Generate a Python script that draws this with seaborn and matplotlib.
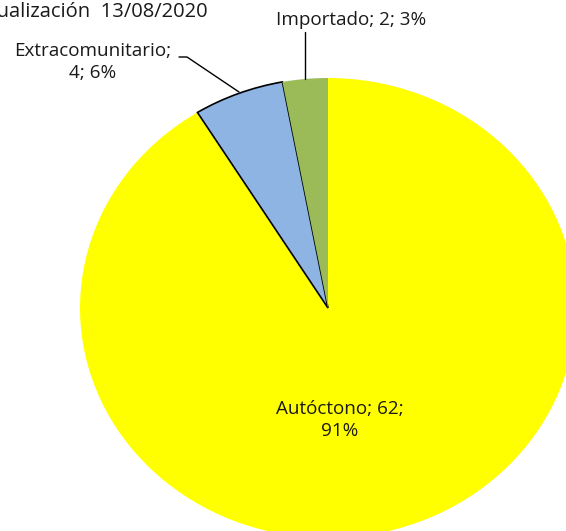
import matplotlib.pyplot as plt
import seaborn as sns

categories = ["Autóctono", "Extracomunitario", "Importado"]
cases = [62, 4, 2]
percent = [91, 6, 3]
colors = ["#FFFF00", "#8EB4E3", "#9BBB59"]
title = "Actualización  13/08/2020"

sns.set_theme(style="white")
plt.rcParams["font.family"] = ["Open Sans", "DejaVu Sans"]

fig = plt.figure(figsize=(5.66, 5.31), dpi=100)
fig.patch.set_facecolor("white")

# pie axes: the chart is stretched a bit wider than tall, as in the original
ax = fig.add_axes([0, 0, 1, 1])
wedges, _ = ax.pie(cases, colors=colors, startangle=90, counterclock=False,
                   radius=1, wedgeprops=dict(linewidth=0))
wedges[1].set_edgecolor("black")
wedges[1].set_linewidth(1.2)
ax.set_aspect("auto")
ax.set_xlim((0 - 328) / 248, (566 - 328) / 248)
ax.set_ylim((308 - 531) / 230, (308 - 0) / 230)
ax.axis("off")

# overlay in pixel coordinates for the labels and leader lines
ov = fig.add_axes([0, 0, 1, 1])
ov.set_xlim(0, 566)
ov.set_ylim(531, 0)
ov.axis("off")
ov.patch.set_alpha(0)

fs = 13.6
# the title runs off the left edge in the original, kept that way
ov.text(208, 12, title, ha="right", va="center", fontsize=14.5, color="#1a1a1a")

ov.text(340, 420, f"{categories[0]}; {cases[0]};\n{percent[0]}%", ha="center",
        va="center", fontsize=fs, color="#1a1a1a", linespacing=1.3)
ov.text(93, 62, f"{categories[1]};\n{cases[1]}; {percent[1]}%", ha="center",
        va="center", fontsize=fs, color="#1a1a1a", linespacing=1.3)
ov.text(351, 20, f"{categories[2]}; {cases[2]}; {percent[2]}%", ha="center",
        va="center", fontsize=fs, color="#1a1a1a")

ov.plot([179, 187, 239], [57, 57, 92], color="black", lw=1)
ov.plot([305, 305], [32, 79], color="black", lw=1)

fig.savefig("out.png", dpi=100)
